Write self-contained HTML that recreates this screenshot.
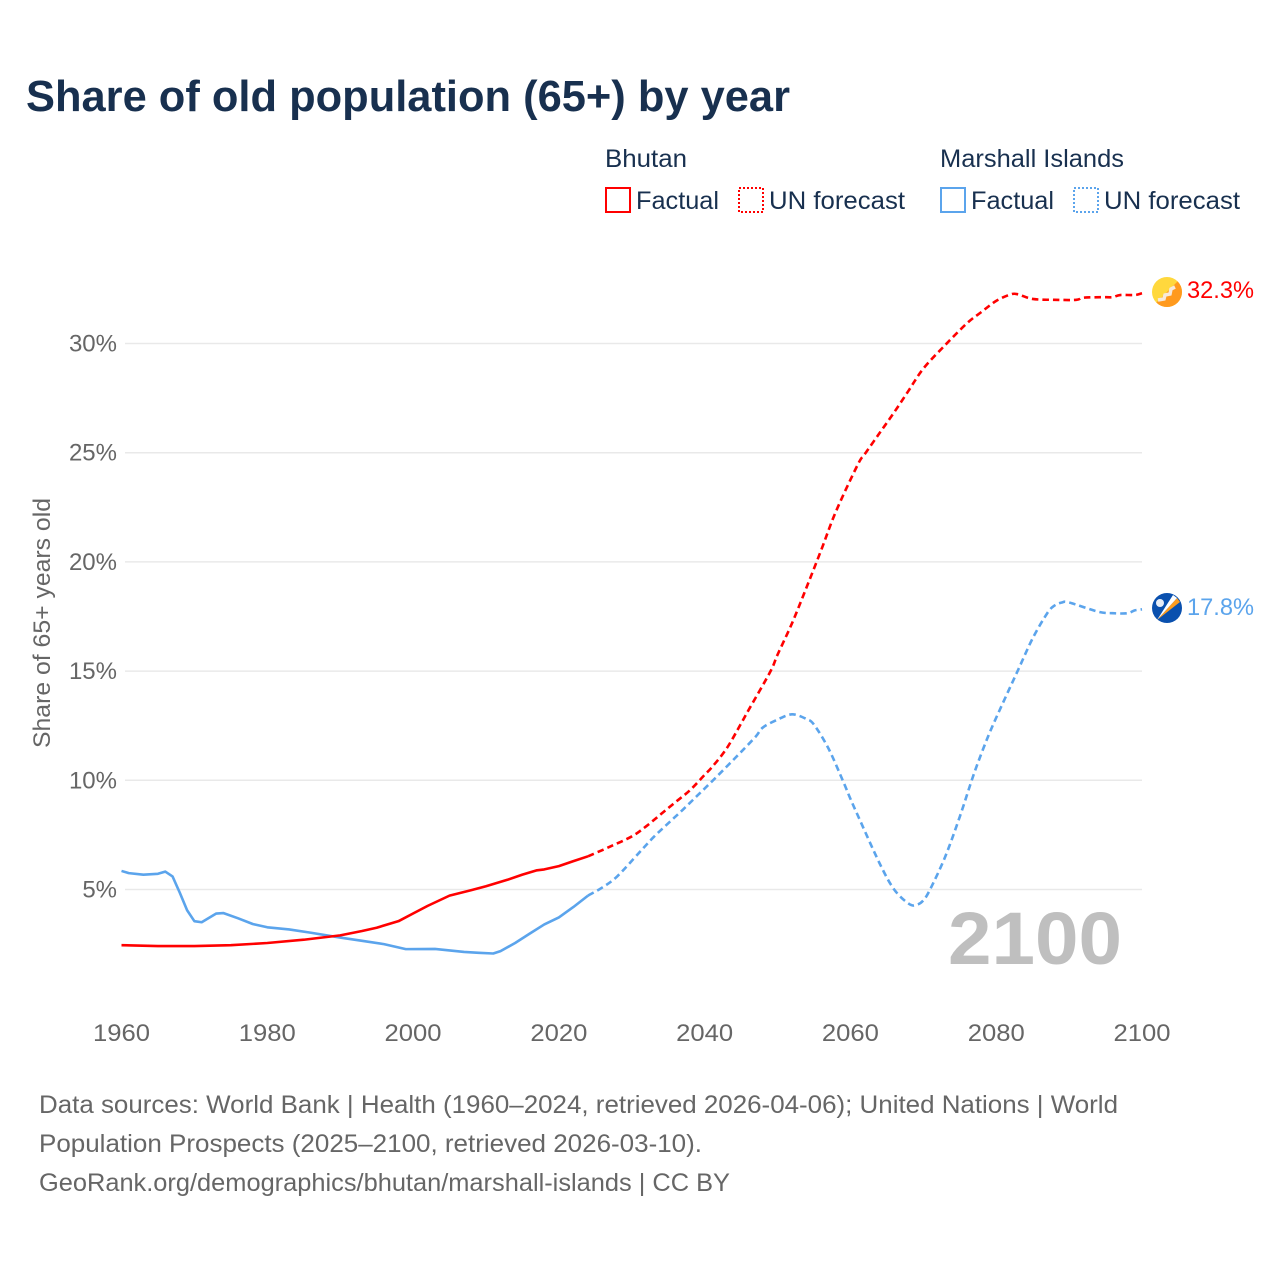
<!DOCTYPE html>
<html lang="en">
<head>
<meta charset="utf-8">
<title>Share of old population (65+) by year</title>
<style>
html,body{margin:0;padding:0;background:#fff;width:1280px;height:1280px;overflow:hidden}
svg{display:block;font-family:"Liberation Sans",sans-serif}
</style>
</head>
<body>
<svg id="chart" width="1280" height="1280" viewBox="0 0 1280 1280" xmlns="http://www.w3.org/2000/svg">
<defs>
<clipPath id="clip-bt"><circle cx="1167" cy="292" r="15"/></clipPath>
<clipPath id="clip-mh"><circle cx="1167" cy="608" r="15"/></clipPath>
</defs>
<rect width="1280" height="1280" fill="#fff"/>
<text x="26" y="111" font-size="44" font-weight="700" fill="#18304f" textLength="764" lengthAdjust="spacingAndGlyphs">Share of old population (65+) by year</text>

<g font-size="25" fill="#18304f">
<text x="605" y="167" textLength="82" lengthAdjust="spacingAndGlyphs">Bhutan</text>
<text x="940" y="167" textLength="184" lengthAdjust="spacingAndGlyphs">Marshall Islands</text>
<rect x="606" y="188" width="24" height="24" fill="none" stroke="#ff0000" stroke-width="2"/>
<text x="636" y="209" textLength="83" lengthAdjust="spacingAndGlyphs">Factual</text>
<rect x="739" y="188" width="24" height="24" fill="none" stroke="#ff0000" stroke-width="2" stroke-dasharray="2 2"/>
<text x="769" y="209" textLength="136" lengthAdjust="spacingAndGlyphs">UN forecast</text>
<rect x="941" y="188" width="24" height="24" fill="none" stroke="#5ba4ec" stroke-width="2"/>
<text x="971" y="209" textLength="83" lengthAdjust="spacingAndGlyphs">Factual</text>
<rect x="1074" y="188" width="24" height="24" fill="none" stroke="#5ba4ec" stroke-width="2" stroke-dasharray="2 2"/>
<text x="1104" y="209" textLength="136" lengthAdjust="spacingAndGlyphs">UN forecast</text>
</g>

<g id="grid"></g>
<g id="yticks" font-size="24" fill="#666"></g>
<g id="xticks" font-size="24" fill="#666"></g>
<text transform="translate(50,748) rotate(-90)" font-size="24" fill="#666" textLength="250" lengthAdjust="spacingAndGlyphs">Share of 65+ years old</text>

<text x="948" y="964" font-size="74" font-weight="700" fill="#bfbfbf" textLength="174" lengthAdjust="spacingAndGlyphs">2100</text>

<g id="series"></g>

<g clip-path="url(#clip-bt)">
<rect x="1152" y="277" width="30" height="30" fill="#ffd83d"/>
<polygon points="1152,307 1182,277 1182,307" fill="#ff9a1e"/>
<path d="M1158 300 L1164 299 L1165 295 L1170 294 L1171 289 L1175 287" fill="none" stroke="#f6e9dc" stroke-width="3.5"/>
</g>
<text id="end-label-bhutan" x="1187" y="298" font-size="24" fill="#ff0000" textLength="67" lengthAdjust="spacingAndGlyphs"></text>

<g clip-path="url(#clip-mh)">
<rect x="1152" y="593" width="30" height="30" fill="#0a50ae"/>
<polygon points="1157,620 1177,598 1180,602" fill="#ff9d1e"/>
<polygon points="1157,620 1173,595 1177,598" fill="#ffffff"/>
<circle cx="1160" cy="603" r="4" fill="#e8eef7"/>
</g>
<text id="end-label-marshall" x="1187" y="615" font-size="24" fill="#5ba4ec" textLength="67" lengthAdjust="spacingAndGlyphs"></text>

<g font-size="25" fill="#666">
<text x="39" y="1113" textLength="1079" lengthAdjust="spacingAndGlyphs">Data sources: World Bank | Health (1960–2024, retrieved 2026-04-06); United Nations | World</text>
<text x="39" y="1152" textLength="663" lengthAdjust="spacingAndGlyphs">Population Prospects (2025–2100, retrieved 2026-03-10).</text>
<text x="39" y="1191" textLength="691" lengthAdjust="spacingAndGlyphs">GeoRank.org/demographics/bhutan/marshall-islands | CC BY</text>
</g>
</svg>
<script>
const xTickYears = [1960, 1980, 2000, 2020, 2040, 2060, 2080, 2100];
const yTickValues = [5, 10, 15, 20, 25, 30];

const bhutanFactualYears = [1960, 1965, 1970, 1975, 1980, 1985, 1990, 1993, 1995, 1998, 2000, 2002, 2005, 2008, 2010, 2013, 2015, 2017, 2018, 2020, 2022, 2024];
const bhutanFactualValues = [2.45, 2.41, 2.41, 2.45, 2.55, 2.7, 2.9, 3.1, 3.25, 3.55, 3.9, 4.25, 4.72, 4.97, 5.15, 5.45, 5.68, 5.88, 5.92, 6.07, 6.3, 6.52];
const bhutanForecastYears = [2024, 2027, 2030, 2032, 2034, 2036, 2038, 2040, 2041, 2043, 2045, 2046, 2049, 2050, 2052, 2054, 2056, 2058, 2061, 2062, 2064, 2066, 2068, 2070, 2073, 2076, 2078, 2080, 2082, 2083, 2085, 2088, 2091, 2092, 2095, 2096, 2097, 2099, 2100];
const bhutanForecastValues = [6.52, 6.96, 7.43, 7.9, 8.45, 9.0, 9.55, 10.25, 10.6, 11.45, 12.6, 13.2, 14.97, 15.75, 17.2, 18.85, 20.55, 22.3, 24.45, 24.95, 25.9, 26.85, 27.85, 28.85, 29.93, 30.93, 31.45, 31.95, 32.25, 32.25, 32.04, 32.0, 32.0, 32.1, 32.12, 32.12, 32.22, 32.22, 32.3];
const marshallFactualYears = [1960, 1961, 1963, 1965, 1966, 1967, 1968, 1969, 1970, 1971, 1973, 1974, 1976, 1978, 1980, 1983, 1986, 1990, 1993, 1996, 1999, 2003, 2007, 2009, 2011, 2012, 2014, 2016, 2018, 2020, 2022, 2024];
const marshallFactualValues = [5.85, 5.75, 5.68, 5.72, 5.82, 5.6, 4.85, 4.05, 3.55, 3.5, 3.9, 3.92, 3.68, 3.42, 3.27, 3.17, 3.02, 2.8, 2.65, 2.5, 2.27, 2.28, 2.14, 2.1, 2.07, 2.18, 2.55, 2.98, 3.4, 3.72, 4.2, 4.72];
const marshallForecastYears = [2024, 2026, 2028, 2031, 2033, 2035, 2037, 2039, 2041, 2043, 2045, 2047, 2048, 2050, 2052, 2054, 2055, 2057, 2059, 2060, 2061, 2064, 2066, 2068, 2069, 2070, 2071, 2073, 2075, 2077, 2079, 2081, 2083, 2085, 2087, 2088, 2089, 2090, 2094, 2096, 2098, 2099, 2100];
const marshallForecastValues = [4.72, 5.1, 5.6, 6.68, 7.4, 8.03, 8.65, 9.3, 9.95, 10.62, 11.3, 12.0, 12.42, 12.78, 13.02, 12.8, 12.55, 11.45, 9.95, 9.15, 8.4, 6.2, 5.0, 4.35, 4.29, 4.5, 5.05, 6.5, 8.33, 10.35, 12.1, 13.6, 15.05, 16.5, 17.65, 18.0, 18.14, 18.14, 17.72, 17.65, 17.65, 17.78, 17.83];
const endLabels = ["32.3%", "17.8%"];

const SVGNS = "http://www.w3.org/2000/svg";
const xScale = y => 121.5 + (y - 1960) * (1142 - 121.5) / 140;
const yScale = v => 889.5 - (v - 5) * (889.5 - 343.5) / 25;

const grid = document.getElementById("grid");
const yticks = document.getElementById("yticks");
const xticks = document.getElementById("xticks");
const series = document.getElementById("series");

yTickValues.forEach(v => {
  const line = document.createElementNS(SVGNS, "line");
  
  
  line.setAttribute("x1", 125);
  line.setAttribute("x2", 1142);
  line.setAttribute("y1", yScale(v));
  line.setAttribute("y2", yScale(v));
  line.setAttribute("stroke", "#e9e9e9");
  line.setAttribute("stroke-width", "1.5");
  grid.appendChild(line);
  const t = document.createElementNS(SVGNS, "text");
  
  
  t.setAttribute("x", 117);
  t.setAttribute("y", yScale(v) + 8);
  t.setAttribute("text-anchor", "end");
  t.textContent = v + "%";
  yticks.appendChild(t);
});

xTickYears.forEach(y => {
  const t = document.createElementNS(SVGNS, "text");
  
  
  t.setAttribute("x", xScale(y));
  t.setAttribute("y", 1041);
  t.setAttribute("text-anchor", "middle");
  t.setAttribute("textLength", "57");
  t.setAttribute("lengthAdjust", "spacingAndGlyphs");
  t.textContent = y;
  xticks.appendChild(t);
});

function straightPath(years, values) {
  return years.map((y, i) => (i ? "L" : "M") + xScale(y).toFixed(2) + " " + yScale(values[i]).toFixed(2)).join(" ");
}

function smoothPath(years, values) {
  const pts = years.map((y, i) => [xScale(y), yScale(values[i])]);
  let d = "M" + pts[0][0].toFixed(2) + " " + pts[0][1].toFixed(2);
  for (let i = 0; i < pts.length - 1; i++) {
    const p0 = pts[Math.max(i - 1, 0)], p1 = pts[i], p2 = pts[i + 1], p3 = pts[Math.min(i + 2, pts.length - 1)];
    const c1x = p1[0] + (p2[0] - p0[0]) / 6, c1y = p1[1] + (p2[1] - p0[1]) / 6;
    const c2x = p2[0] - (p3[0] - p1[0]) / 6, c2y = p2[1] - (p3[1] - p1[1]) / 6;
    d += " C" + c1x.toFixed(2) + " " + c1y.toFixed(2) + " " + c2x.toFixed(2) + " " + c2y.toFixed(2) + " " + p2[0].toFixed(2) + " " + p2[1].toFixed(2);
  }
  return d;
}

function drawLine(years, values, color, dashed, name) {
  const p = document.createElementNS(SVGNS, "path");
  
  
  p.setAttribute("d", dashed ? smoothPath(years, values) : straightPath(years, values));
  p.setAttribute("fill", "none");
  p.setAttribute("stroke", color);
  p.setAttribute("stroke-width", "2.6");
  p.setAttribute("stroke-linejoin", "round");
  if (dashed) p.setAttribute("stroke-dasharray", "6.5 4");
  series.appendChild(p);
}

drawLine(marshallFactualYears, marshallFactualValues, "#5ba4ec", false, "marshall-islands-factual-line");
drawLine(marshallForecastYears, marshallForecastValues, "#5ba4ec", true, "marshall-islands-forecast-line");
drawLine(bhutanFactualYears, bhutanFactualValues, "#ff0000", false, "bhutan-factual-line");
drawLine(bhutanForecastYears, bhutanForecastValues, "#ff0000", true, "bhutan-forecast-line");

document.getElementById("end-label-bhutan").textContent = endLabels[0];
document.getElementById("end-label-marshall").textContent = endLabels[1];
</script>
</body>
</html>
